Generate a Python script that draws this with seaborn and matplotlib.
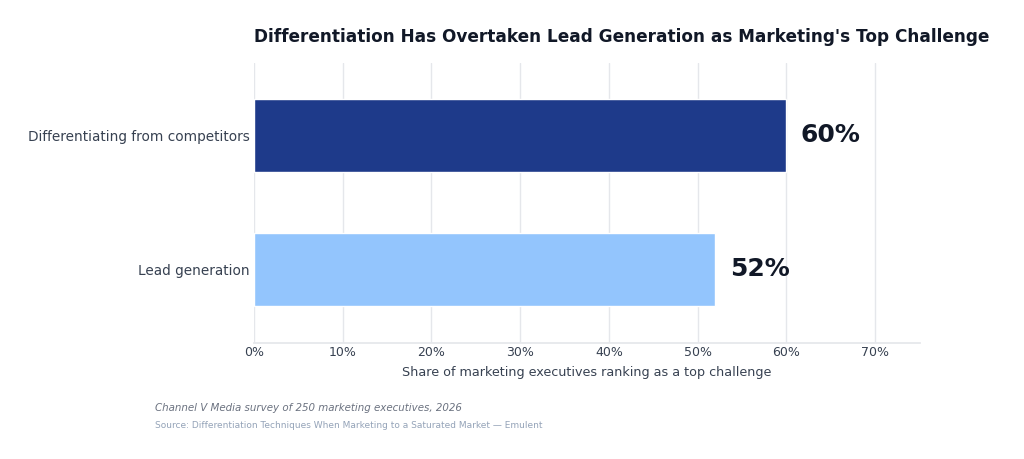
import matplotlib
matplotlib.use("Agg")
from matplotlib import pyplot as plt
from matplotlib.ticker import PercentFormatter
import pandas as pd
import seaborn as sns

challenges = ["Differentiating from competitors", "Lead generation"]
shares = [60, 52]
bar_colors = ["#1e3a8a", "#93c5fd"]

title = "Differentiation Has Overtaken Lead Generation as Marketing's Top Challenge"
xlabel = "Share of marketing executives ranking as a top challenge"
note = "Channel V Media survey of 250 marketing executives, 2026"
source = "Source: Differentiation Techniques When Marketing to a Saturated Market \u2014 Emulent"

df = pd.DataFrame({"challenge": challenges, "share": shares})

sns.set_theme(style="whitegrid")
plt.rcParams["font.family"] = ["DejaVu Sans"]

fig = plt.figure(figsize=(10.24, 4.59), dpi=100)
ax = fig.add_axes([0.248, 0.2527, 0.65, 0.61])

sns.barplot(data=df, x="share", y="challenge", hue="challenge",
            palette=bar_colors, width=0.54, legend=False, ax=ax,
            saturation=1)

for i, v in enumerate(shares):
    ax.text(v + 1.6, i, f"{v}%", va="center", ha="left",
            fontsize=18, fontweight="bold", color="#111827")

ax.set_xlim(0, 75)
ax.set_ylim(1.55, -0.54)
ax.set_xticks(range(0, 80, 10))
ax.xaxis.set_major_formatter(PercentFormatter(decimals=0))
ax.grid(axis="x", color="#e5e7eb", linewidth=1)
ax.grid(axis="y", visible=False)
for side in ["top", "right", "left"]:
    ax.spines[side].set_visible(False)
ax.spines["bottom"].set_color("#e5e7eb")
ax.tick_params(axis="x", labelsize=9, colors="#374151", length=0, pad=2)
ax.tick_params(axis="y", labelsize=9.8, colors="#374151", length=0, pad=3)
ax.set_ylabel("")
ax.set_xlabel(xlabel, fontsize=9.2, color="#374151", labelpad=5)

ax.set_title(title, loc="left", fontsize=12.2, fontweight="bold",
             color="#111827", pad=15)

fig.text(155 / 1024, 1 - 408 / 459, note, fontsize=7.4, style="italic",
         color="#6b7280", va="center")
fig.text(155 / 1024, 1 - 426 / 459, source, fontsize=6.5,
         color="#94a3b8", va="center")

fig.savefig("out.png", dpi=100, facecolor="white")
